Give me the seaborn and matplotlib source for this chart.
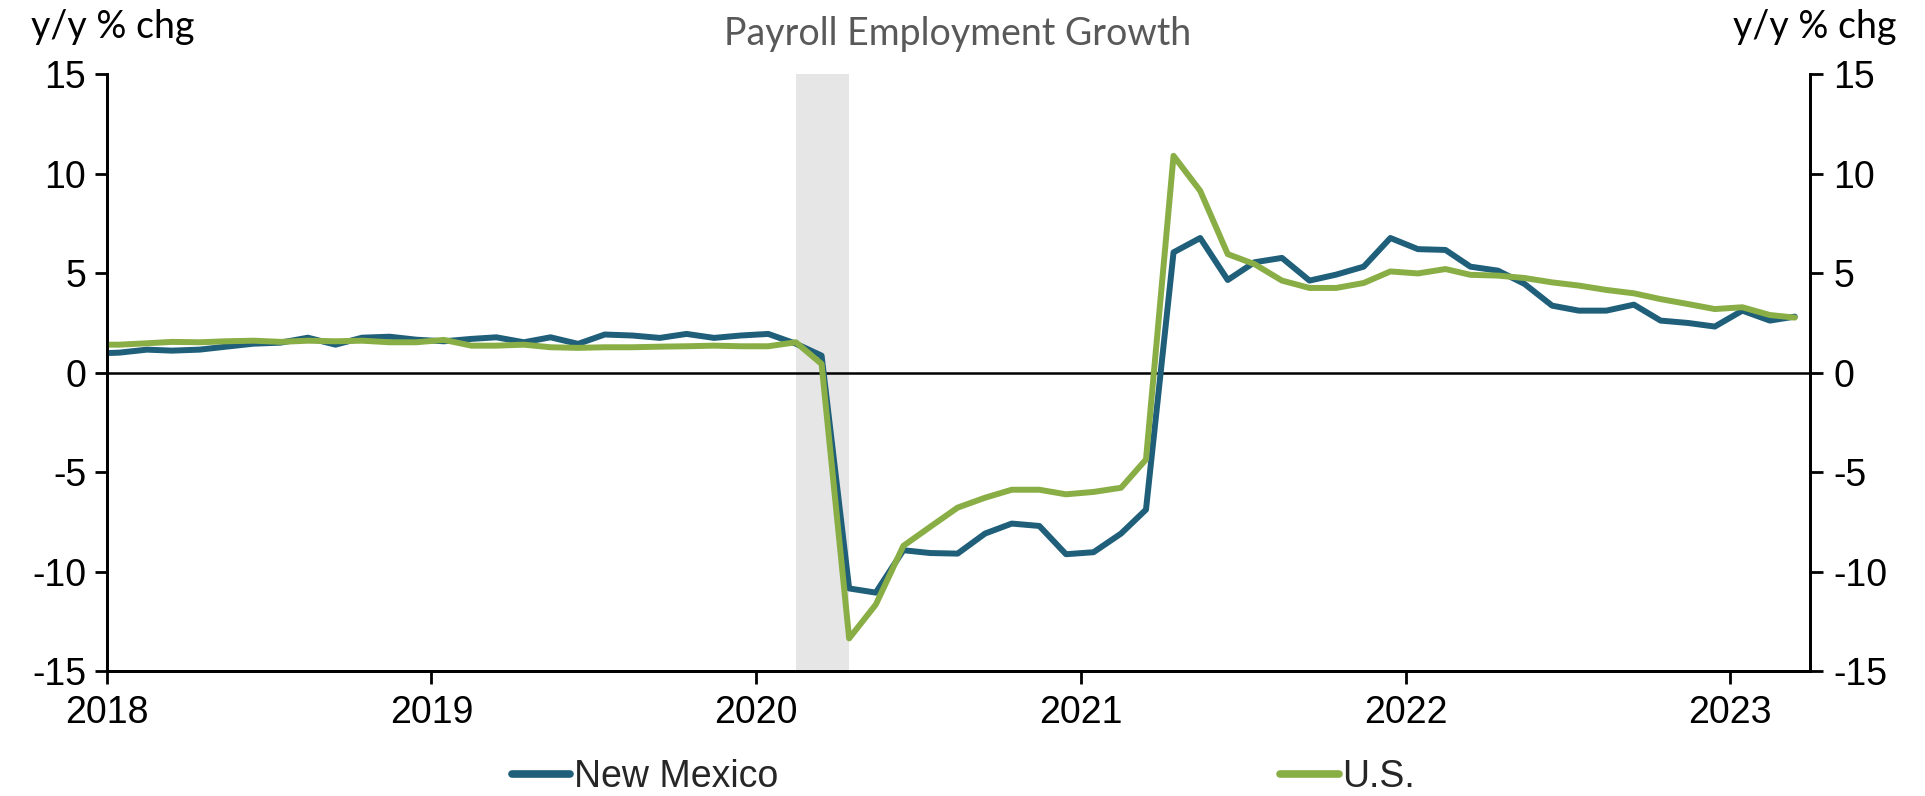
import matplotlib
matplotlib.use("Agg")
import matplotlib.pyplot as plt
import matplotlib.dates as mdates
from matplotlib import font_manager
import numpy as np
import pandas as pd
import seaborn as sns

# ── Data (monthly y/y % change, Dec 2017 - Mar 2023) ─────────────────────
months = pd.date_range("2017-12-01", "2023-03-01", freq="MS") + pd.Timedelta(days=14)

new_mexico = [
    0.95,
    1.00, 1.15, 1.10, 1.15, 1.30, 1.45, 1.50, 1.75, 1.40, 1.75, 1.80, 1.65,
    1.57, 1.69, 1.77, 1.52, 1.77, 1.44, 1.91, 1.86, 1.74, 1.94, 1.74, 1.86,
    1.94, 1.45, 0.85, -10.85, -11.06, -8.93, -9.07, -9.10, -8.09, -7.59, -7.71, -9.13,
    -9.03, -8.09, -6.89, 6.04, 6.76, 4.65, 5.54, 5.76, 4.62, 4.92, 5.32, 6.76,
    6.20, 6.16, 5.32, 5.12, 4.45, 3.36, 3.11, 3.11, 3.41, 2.61, 2.49, 2.31,
    3.11, 2.61, 2.81,
]
us = [
    1.40,
    1.40, 1.47, 1.54, 1.52, 1.57, 1.60, 1.54, 1.60, 1.57, 1.60, 1.52, 1.52,
    1.64, 1.35, 1.35, 1.40, 1.27, 1.24, 1.27, 1.27, 1.30, 1.32, 1.35, 1.32,
    1.32, 1.52, 0.43, -13.36, -11.66, -8.71, -7.76, -6.79, -6.29, -5.89, -5.89, -6.12,
    -6.00, -5.79, -4.37, 10.89, 9.13, 5.95, 5.45, 4.62, 4.25, 4.25, 4.50, 5.08,
    4.98, 5.20, 4.91, 4.87, 4.75, 4.53, 4.37, 4.15, 3.98, 3.69, 3.44, 3.19,
    3.28, 2.89, 2.76,
]
series_names = ["New Mexico", "U.S."]
series_colors = ["#1F5F7A", "#8AAE46"]
recession = ("2020-02-15", "2020-04-15")
y_ticks = [-15, -10, -5, 0, 5, 10, 15]

df = pd.DataFrame({
    "date": np.concatenate([months, months]),
    "value": new_mexico + us,
    "series": [series_names[0]] * len(months) + [series_names[1]] * len(months),
})

# ── Style ────────────────────────────────────────────────────────────────
sns.set_theme(style="ticks")
installed = {f.name for f in font_manager.fontManager.ttflist}
num_font = "Liberation Sans Narrow" if "Liberation Sans Narrow" in installed else "Liberation Sans"
plt.rcParams["font.family"] = [num_font, "DejaVu Sans"]
plt.rcParams["axes.unicode_minus"] = False

fig = plt.figure(figsize=(19.25, 7.96), dpi=100)
ax = fig.add_axes([0.0556, 0.157, 0.8846, 0.750])

ax.axvspan(pd.Timestamp(recession[0]), pd.Timestamp(recession[1]),
           color="#E6E6E6", lw=0, zorder=0)
ax.axhline(0, color="black", lw=1.8, zorder=1)

sns.lineplot(data=df, x="date", y="value", hue="series",
             palette=dict(zip(series_names, series_colors)),
             linewidth=4.3, ax=ax, zorder=3)

handles, labels = ax.get_legend_handles_labels()
ax.get_legend().remove()

ax.set_xlim(pd.Timestamp("2018-01-01"), pd.Timestamp("2023-04-01"))
ax.set_ylim(-15, 15)
ax.set_yticks(y_ticks)
ax.xaxis.set_major_locator(mdates.YearLocator())
ax.xaxis.set_major_formatter(mdates.DateFormatter("%Y"))
ax.set_xlabel("")
ax.set_ylabel("")

ax2 = ax.twinx()
ax2.set_ylim(-15, 15)
ax2.set_yticks(y_ticks)

for a in (ax, ax2):
    a.spines["top"].set_visible(False)
    for s in ("left", "right", "bottom"):
        a.spines[s].set_linewidth(2.0)
        a.spines[s].set_color("black")
    a.tick_params(axis="both", length=9, width=2.0, color="black",
                  labelsize=27, labelcolor="black", direction="out")
ax.tick_params(axis="y", pad=6)
ax.tick_params(axis="x", pad=8)
ax2.tick_params(axis="y", pad=8)

fig.text(0.4975, 0.957, "Payroll Employment Growth", ha="center", va="center",
         fontsize=27, color="#595959", family=["Lato", "DejaVu Sans"])
fig.text(0.016, 0.966, "y/y % chg", ha="left", va="center",
         fontsize=27, color="black", family=["Lato", "DejaVu Sans"])
fig.text(0.985, 0.966, "y/y % chg", ha="right", va="center",
         fontsize=27, color="black", family=["Lato", "DejaVu Sans"])

for h in handles:
    h.set_linewidth(5.5)
fig.legend(handles, labels, loc="center", bbox_to_anchor=(0.5005, 0.024),
           ncol=2, frameon=False, fontsize=27, handlelength=1.55,
           handletextpad=0.1, columnspacing=13.4)

fig.savefig("out.png", dpi=100)
plt.close(fig)
